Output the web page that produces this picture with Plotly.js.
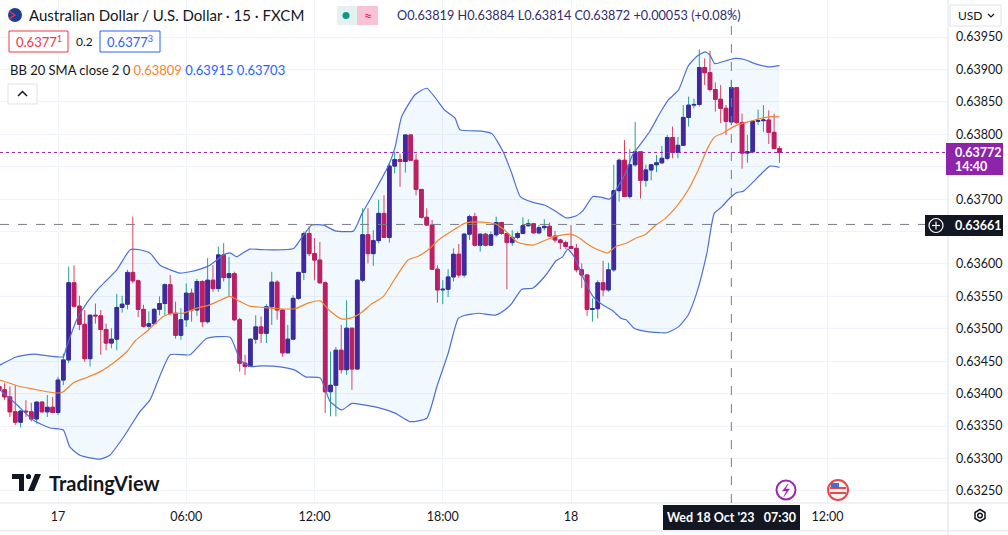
<!DOCTYPE html>
<html>
<head>
<meta charset="utf-8">
<script src="https://cdn.plot.ly/plotly-3.0.1.min.js"></script>
<style>
html, body { margin: 0; padding: 0; background: #ffffff; }
#chart { width: 1008px; height: 535px; }
</style>
</head>
<body>
<div id="chart"></div>
<script>
"use strict";

// AUD/USD 15 minute candles, index 0 = Tue 17 Oct 2023 00:00
var firstIndex = -11;

var opens = [
    0.63411, 0.63406, 0.63395, 0.63372, 0.63356, 0.63373, 0.63372, 0.63361, 0.63387, 0.63372, 0.63379,
    0.63371, 0.63421, 0.63452, 0.63571, 0.63535, 0.63507, 0.63454, 0.63521, 0.63520, 0.63499,
    0.63478, 0.63484, 0.63533, 0.63538, 0.63587, 0.63574, 0.63530, 0.63504, 0.63508, 0.63530,
    0.63539, 0.63568, 0.63524, 0.63490, 0.63514, 0.63555, 0.63529, 0.63573, 0.63511, 0.63575,
    0.63562, 0.63614, 0.63579, 0.63585, 0.63514, 0.63447, 0.63442, 0.63484, 0.63503, 0.63493,
    0.63534, 0.63572, 0.63529, 0.63463, 0.63484, 0.63547, 0.63587, 0.63647, 0.63616, 0.63606,
    0.63571, 0.63403, 0.63413, 0.63467, 0.63437, 0.63501, 0.63438, 0.63575, 0.63645, 0.63616,
    0.63636, 0.63678, 0.63641, 0.63751, 0.63761, 0.63758, 0.63799, 0.63760, 0.63715, 0.63672,
    0.63660, 0.63592, 0.63560, 0.63561, 0.63580, 0.63615, 0.63583, 0.63646, 0.63673, 0.63629,
    0.63646, 0.63629, 0.63645, 0.63664, 0.63647, 0.63633, 0.63641, 0.63647, 0.63659, 0.63662,
    0.63648, 0.63656, 0.63658, 0.63643, 0.63637, 0.63633, 0.63627, 0.63624, 0.63591, 0.63583,
    0.63530, 0.63531, 0.63571, 0.63560, 0.63591, 0.63713, 0.63760, 0.63704, 0.63753, 0.63773,
    0.63729, 0.63745, 0.63753, 0.63756, 0.63763, 0.63795, 0.63772, 0.63783, 0.63826, 0.63845,
    0.63846, 0.63903, 0.63895, 0.63869, 0.63854, 0.63840, 0.63819, 0.63872, 0.63818, 0.63771,
    0.63773, 0.63820, 0.63821, 0.63822, 0.63803, 0.63778
];
var highs = [
    0.63413, 0.63416, 0.63411, 0.63413, 0.63375, 0.63390, 0.63386, 0.63388, 0.63388, 0.63398, 0.63395,
    0.63426, 0.63462, 0.63596, 0.63598, 0.63551, 0.63529, 0.63521, 0.63539, 0.63529, 0.63508,
    0.63501, 0.63554, 0.63551, 0.63591, 0.63673, 0.63576, 0.63537, 0.63527, 0.63532, 0.63550,
    0.63570, 0.63583, 0.63542, 0.63532, 0.63570, 0.63562, 0.63577, 0.63575, 0.63609, 0.63598,
    0.63627, 0.63632, 0.63611, 0.63588, 0.63517, 0.63460, 0.63485, 0.63521, 0.63519, 0.63538,
    0.63588, 0.63575, 0.63529, 0.63506, 0.63552, 0.63588, 0.63650, 0.63658, 0.63640, 0.63634,
    0.63573, 0.63465, 0.63472, 0.63506, 0.63544, 0.63501, 0.63576, 0.63686, 0.63686, 0.63652,
    0.63699, 0.63706, 0.63756, 0.63773, 0.63770, 0.63799, 0.63799, 0.63770, 0.63715, 0.63686,
    0.63668, 0.63598, 0.63575, 0.63592, 0.63624, 0.63631, 0.63648, 0.63676, 0.63679, 0.63646,
    0.63648, 0.63650, 0.63673, 0.63665, 0.63647, 0.63652, 0.63650, 0.63672, 0.63669, 0.63663,
    0.63660, 0.63669, 0.63664, 0.63651, 0.63639, 0.63636, 0.63660, 0.63631, 0.63601, 0.63585,
    0.63547, 0.63575, 0.63605, 0.63602, 0.63753, 0.63763, 0.63791, 0.63777, 0.63819, 0.63773,
    0.63753, 0.63754, 0.63768, 0.63782, 0.63799, 0.63812, 0.63796, 0.63845, 0.63858, 0.63855,
    0.63931, 0.63917, 0.63929, 0.63880, 0.63876, 0.63845, 0.63884, 0.63873, 0.63832, 0.63799,
    0.63821, 0.63838, 0.63845, 0.63837, 0.63832, 0.63782
];
var lows = [
    0.63324, 0.63390, 0.63364, 0.63352, 0.63348, 0.63364, 0.63357, 0.63354, 0.63371, 0.63364, 0.63370,
    0.63367, 0.63413, 0.63447, 0.63533, 0.63498, 0.63449, 0.63442, 0.63508, 0.63460, 0.63467,
    0.63470, 0.63467, 0.63525, 0.63530, 0.63570, 0.63518, 0.63502, 0.63498, 0.63506, 0.63521,
    0.63521, 0.63521, 0.63485, 0.63483, 0.63503, 0.63511, 0.63520, 0.63503, 0.63508, 0.63557,
    0.63557, 0.63573, 0.63550, 0.63512, 0.63434, 0.63429, 0.63441, 0.63477, 0.63478, 0.63478,
    0.63506, 0.63514, 0.63457, 0.63462, 0.63484, 0.63545, 0.63575, 0.63612, 0.63575, 0.63570,
    0.63370, 0.63365, 0.63365, 0.63431, 0.63429, 0.63406, 0.63437, 0.63572, 0.63601, 0.63597,
    0.63632, 0.63640, 0.63633, 0.63740, 0.63719, 0.63741, 0.63759, 0.63706, 0.63670, 0.63659,
    0.63591, 0.63540, 0.63538, 0.63549, 0.63573, 0.63579, 0.63579, 0.63637, 0.63627, 0.63619,
    0.63627, 0.63629, 0.63642, 0.63645, 0.63561, 0.63628, 0.63638, 0.63646, 0.63658, 0.63647,
    0.63646, 0.63652, 0.63642, 0.63633, 0.63623, 0.63623, 0.63623, 0.63587, 0.63563, 0.63520,
    0.63511, 0.63516, 0.63550, 0.63557, 0.63588, 0.63696, 0.63703, 0.63701, 0.63750, 0.63701,
    0.63719, 0.63729, 0.63742, 0.63755, 0.63760, 0.63763, 0.63763, 0.63782, 0.63812, 0.63840,
    0.63843, 0.63876, 0.63866, 0.63835, 0.63817, 0.63799, 0.63814, 0.63816, 0.63747, 0.63756,
    0.63771, 0.63814, 0.63804, 0.63785, 0.63777, 0.63756
];
var closes = [
    0.63406, 0.63395, 0.63372, 0.63356, 0.63373, 0.63372, 0.63361, 0.63387, 0.63372, 0.63379, 0.63371,
    0.63421, 0.63452, 0.63571, 0.63535, 0.63507, 0.63454, 0.63521, 0.63520, 0.63499, 0.63478,
    0.63484, 0.63533, 0.63538, 0.63587, 0.63574, 0.63530, 0.63504, 0.63508, 0.63530, 0.63539,
    0.63568, 0.63524, 0.63490, 0.63514, 0.63555, 0.63529, 0.63573, 0.63511, 0.63575, 0.63562,
    0.63614, 0.63579, 0.63585, 0.63514, 0.63447, 0.63442, 0.63484, 0.63503, 0.63493, 0.63534,
    0.63572, 0.63529, 0.63463, 0.63484, 0.63547, 0.63587, 0.63647, 0.63616, 0.63606, 0.63571,
    0.63403, 0.63413, 0.63467, 0.63437, 0.63501, 0.63438, 0.63575, 0.63645, 0.63616, 0.63636,
    0.63678, 0.63641, 0.63751, 0.63761, 0.63758, 0.63799, 0.63760, 0.63715, 0.63672, 0.63660,
    0.63592, 0.63560, 0.63561, 0.63580, 0.63615, 0.63583, 0.63646, 0.63673, 0.63629, 0.63646,
    0.63629, 0.63645, 0.63664, 0.63647, 0.63633, 0.63641, 0.63647, 0.63659, 0.63662, 0.63648,
    0.63656, 0.63658, 0.63643, 0.63637, 0.63633, 0.63627, 0.63624, 0.63591, 0.63583, 0.63530,
    0.63531, 0.63571, 0.63560, 0.63591, 0.63713, 0.63760, 0.63704, 0.63753, 0.63773, 0.63729,
    0.63745, 0.63753, 0.63756, 0.63763, 0.63795, 0.63772, 0.63783, 0.63826, 0.63845, 0.63846,
    0.63903, 0.63895, 0.63869, 0.63854, 0.63840, 0.63820, 0.63872, 0.63818, 0.63771, 0.63773,
    0.63820, 0.63821, 0.63822, 0.63803, 0.63778, 0.63772
];

// Bollinger bands (20, 2), at candle indices
var bbUpperIdx = [-10.9, -7.7, -4.6, -1.5, 1.0, 1.6, 3.5, 5.4, 7.9, 11.0, 13.5, 15.3, 17.2, 19.1, 21.0, 22.8,
    24.7, 26.6, 28.4, 29.7, 30.9, 32.2, 33.4, 34.6, 35.9, 38.2, 44.1, 45.7, 47.5, 49.7, 51.9, 55.3, 56.9,
    59.4, 61.9, 63.1, 64.3, 66.8, 69.0, 72.4, 74.3, 75.2, 79.3, 81.2, 83.3, 84.9, 86.5, 88.9, 91.0, 93.2,
    95.1, 96.9, 98.2, 100.1, 101.6, 103.2, 104.4, 106.3, 107.5, 109.1, 110.7, 112.6, 114.2, 116.1, 117.9,
    119.5, 121.1, 122.0, 122.9, 124.8, 126.7, 128.6, 130.4, 132.9, 135.0];
var bbUpper = [0.63444, 0.63457, 0.63461, 0.63458, 0.63457, 0.63472, 0.63514, 0.63540, 0.63565, 0.63591,
    0.63622, 0.63622, 0.63617, 0.63598, 0.63591, 0.63586, 0.63588, 0.63592, 0.63598, 0.63606, 0.63614,
    0.63617, 0.63611, 0.63617, 0.63623, 0.63622, 0.63624, 0.63642, 0.63660, 0.63660, 0.63651, 0.63651,
    0.63678, 0.63714, 0.63753, 0.63781, 0.63827, 0.63861, 0.63871, 0.63837, 0.63825, 0.63807, 0.63805,
    0.63801, 0.63773, 0.63740, 0.63704, 0.63695, 0.63691, 0.63681, 0.63671, 0.63674, 0.63682, 0.63704,
    0.63703, 0.63700, 0.63714, 0.63742, 0.63768, 0.63786, 0.63804, 0.63832, 0.63853, 0.63868, 0.63905,
    0.63920, 0.63927, 0.63922, 0.63909, 0.63913, 0.63917, 0.63915, 0.63909, 0.63904, 0.63906];

var bbBasisIdx = [-10.9, -9.0, -7.1, -4.6, -2.1, 0.1, 1.0, 2.9, 5.4, 7.9, 10.3, 12.9, 14.5, 16.6, 19.7,
    21.6, 23.4, 26.0, 28.4, 30.3, 32.2, 34.1, 35.9, 38.2, 41.3, 44.4, 46.9, 49.1, 50.7, 53.1, 55.3, 56.9,
    58.8, 60.9, 63.1, 65.5, 67.4, 69.3, 71.2, 74.3, 76.2, 78.7, 81.8, 83.6, 86.1, 88.9, 91.3, 93.2, 95.7,
    97.2, 99.4, 101.6, 102.9, 104.4, 106.3, 108.2, 110.0, 111.7, 113.6, 115.5, 117.9, 119.8, 121.7,
    122.9, 124.5, 126.7, 128.6, 130.4, 132.9, 135.0];
var bbBasis = [0.63421, 0.63416, 0.63411, 0.63407, 0.63403, 0.63401, 0.63403, 0.63417, 0.63425, 0.63434,
    0.63447, 0.63465, 0.63482, 0.63496, 0.63519, 0.63524, 0.63524, 0.63532, 0.63537, 0.63544, 0.63550,
    0.63542, 0.63535, 0.63533, 0.63531, 0.63531, 0.63540, 0.63543, 0.63529, 0.63515, 0.63518, 0.63526,
    0.63539, 0.63550, 0.63578, 0.63606, 0.63612, 0.63622, 0.63637, 0.63654, 0.63663, 0.63665, 0.63662,
    0.63652, 0.63633, 0.63629, 0.63637, 0.63643, 0.63646, 0.63642, 0.63629, 0.63620, 0.63617, 0.63627,
    0.63632, 0.63640, 0.63646, 0.63659, 0.63670, 0.63686, 0.63714, 0.63745, 0.63781, 0.63796, 0.63802,
    0.63813, 0.63818, 0.63822, 0.63827, 0.63827];

var bbLowerIdx = [-10.9, -7.7, -4.6, -1.5, 1.0, 2.2, 4.1, 6.0, 7.9, 9.7, 12.5, 15.3, 17.2, 21.0, 24.7,
    27.8, 32.2, 34.1, 35.9, 38.2, 41.9, 44.4, 46.3, 49.1, 50.9, 53.1, 55.0, 56.9, 60.6, 63.1, 65.9, 69.0,
    70.9, 73.0, 74.9, 76.2, 78.7, 81.8, 83.6, 84.9, 86.8, 88.9, 91.3, 93.2, 94.4, 95.4, 96.6, 98.5, 100.1,
    101.9, 103.8, 105.4, 106.3, 107.8, 110.0, 112.6, 113.9, 116.1, 117.9, 119.5, 121.4, 122.8, 124.2,
    125.4, 127.0, 128.2, 129.8, 131.7, 133.2, 134.5, 135.0];
var bbLower = [0.63406, 0.63383, 0.63359, 0.63347, 0.63344, 0.63318, 0.63305, 0.63301, 0.63299, 0.63305,
    0.63336, 0.63372, 0.63390, 0.63460, 0.63460, 0.63485, 0.63487, 0.63452, 0.63442, 0.63443, 0.63441,
    0.63436, 0.63426, 0.63424, 0.63388, 0.63375, 0.63385, 0.63383, 0.63377, 0.63370, 0.63357, 0.63362,
    0.63411, 0.63462, 0.63516, 0.63521, 0.63524, 0.63521, 0.63529, 0.63539, 0.63561, 0.63563, 0.63583,
    0.63605, 0.63611, 0.63623, 0.63611, 0.63575, 0.63550, 0.63537, 0.63528, 0.63516, 0.63514, 0.63501,
    0.63496, 0.63494, 0.63494, 0.63503, 0.63521, 0.63555, 0.63616, 0.63678, 0.63688, 0.63699, 0.63710,
    0.63712, 0.63724, 0.63740, 0.63751, 0.63750, 0.63749];

var priceTicks = [0.6325, 0.6330, 0.6335, 0.6340, 0.6345, 0.6350, 0.6355, 0.6360, 0.6365, 0.6370,
    0.6375, 0.6380, 0.6385, 0.6390, 0.6395];
// these two labels sit under the price tags, as on the original
var hiddenTicks = [0.6365, 0.6375];
var timeTickIdx = [0, 24, 48, 72, 96, 144];
var timeTickText = ["17", "06:00", "12:00", "18:00", "18", "12:00"];

var lastPrice = 0.63772;
var crossPrice = 0.63661;
var crossIdx = 126;

// colours
var upBody = "#45209b", downBody = "#c4195e";
var upWick = "#22a08f", downWick = "#e0405a";
var bandBlue = "#4d6fd8", basisOrange = "#f5842c";
var textColor = "#131722", lineGray = "#e0e3eb";

function candleTime(i) {
    return Date.UTC(2023, 9, 17) + i * 15 * 60000;
}

var times = [];
for (var k = 0; k < opens.length; k++) {
    times.push(candleTime(firstIndex + k));
}
var bodyTop = opens.map(function (o, j) { return Math.max(o, closes[j]); });
var bodyBottom = opens.map(function (o, j) { return Math.min(o, closes[j]); });

// plot area in pixels
var W = 1008, H = 535, MR = 60, MB = 32;
var PW = W - MR, PH = H - MB;
function px(x) { return x / PW; }
function py(y) { return 1 - y / PH; }

function pathPx(pts, closed) {
    var s = "";
    for (var j = 0; j < pts.length; j++) {
        s += (j == 0 ? "M" : "L") + px(pts[j][0]).toFixed(5) + "," + py(pts[j][1]).toFixed(5);
    }
    return s + (closed ? "Z" : "");
}

var shapes = [];
var annotations = [];

function addRect(x0, y0, x1, y1, fill, line, lw) {
    shapes.push({ type: "rect", xref: "paper", yref: "paper", layer: "above",
        x0: px(x0), x1: px(x1), y0: py(y1), y1: py(y0),
        fillcolor: fill, line: { color: line || fill, width: lw || 0 } });
}
function addCircle(cx, cy, r, fill, line, lw) {
    shapes.push({ type: "circle", xref: "paper", yref: "paper", layer: "above",
        x0: px(cx - r), x1: px(cx + r), y0: py(cy + r), y1: py(cy - r),
        fillcolor: fill, line: { color: line || fill, width: lw || 0 } });
}
function addPath(pts, closed, fill, line, lw) {
    shapes.push({ type: "path", xref: "paper", yref: "paper", layer: "above",
        path: pathPx(pts, closed), fillcolor: fill || "rgba(0,0,0,0)",
        line: { color: line || "rgba(0,0,0,0)", width: lw || 0 } });
}
function addText(x, y, text, size, color, xanchor, bold) {
    annotations.push({ xref: "paper", yref: "paper", x: px(x), y: py(y), text: bold ? "<b>" + text + "</b>" : text,
        showarrow: false, xanchor: xanchor || "left", yanchor: "middle",
        font: { family: "Lato, 'Noto Sans', sans-serif", size: size, color: color } });
}

// separators of the price and time scales
addPath([[948, 0], [948, 535]], false, null, lineGray, 1);
addPath([[0, 503], [1008, 503]], false, null, lineGray, 1);
addPath([[0, 531], [1008, 531]], false, null, lineGray, 1);

// crosshair and last price line
shapes.push({ type: "line", xref: "paper", yref: "y", x0: 0, x1: 1, y0: lastPrice, y1: lastPrice,
    line: { color: "#8e24aa", width: 1, dash: "dot" } });
shapes.push({ type: "line", xref: "paper", yref: "y", x0: 0, x1: px(925), y0: crossPrice, y1: crossPrice,
    line: { color: "#787b86", width: 1, dash: "dash" } });
shapes.push({ type: "line", xref: "x", yref: "paper", x0: candleTime(crossIdx), x1: candleTime(crossIdx), y0: 0, y1: 1,
    line: { color: "#787b86", width: 1, dash: "dash" } });

// legend header
addCircle(15, 15, 7, "#1e3f91");
addPath([[9, 11], [15, 15], [9, 19]], false, null, "#e53935", 1.5);
addText(27, 15, "Australian Dollar / U.S. Dollar · 15 · FXCM", 15, textColor);
addRect(337, 6, 378, 25, "#e4f1ef");
addCircle(346, 15.5, 3.5, "#089981");
addRect(357, 6, 378, 25, "#f8c3d5");
addText(367.5, 15.5, "≈", 14, "#e91e63", "center");
addText(395, 15, "O0.63819 H0.63884 L0.63814 C0.63872 +0.00053 (+0.08%)", 12.7, "#2f2c72");

addRect(9, 31, 68, 52, "#ffffff", "#f23645", 1);
addText(38.5, 41.5, "0.6377<sup>1</sup>", 13, "#f23645", "center");
addText(84, 41.5, "0.2", 12, textColor, "center");
addRect(100, 31, 160, 52, "#ffffff", "#2962ff", 1);
addText(130, 41.5, "0.6377<sup>3</sup>", 13, "#2962ff", "center");

addText(8, 70, "BB 20 SMA close 2 0 <span style='color:" + basisOrange + "'>0.63809</span> " +
    "<span style='color:#2962ff'>0.63915</span> <span style='color:#2962ff'>0.63703</span>", 13, textColor);
addRect(8, 84, 37, 104, "#ffffff", lineGray, 1);
addPath([[18, 96], [22.5, 91.5], [27, 96]], false, null, textColor, 1.5);

// price scale extras
addRect(950, 5, 1001, 26, "#ffffff", lineGray, 1);
addText(956, 15.5, "USD", 12, textColor);
addPath([[988, 14], [991, 17], [994, 14]], false, null, textColor, 1.2);

addRect(946, 143, 1003, 175, "#8e24aa");
addText(953, 152, "0.63772", 12.5, "#ffffff", "left", true);
addText(953, 166, "14:40", 12.5, "#ffffff", "left", true);

addRect(925, 215, 1003, 236, "#131722");
addCircle(936, 225.5, 7, "rgba(0,0,0,0)", "#ffffff", 1.2);
addPath([[932, 225.5], [940, 225.5]], false, null, "#ffffff", 1.2);
addPath([[936, 221.5], [936, 229.5]], false, null, "#ffffff", 1.2);
addText(953, 225.5, "0.63661", 12.5, "#ffffff", "left", true);

// time scale extras
addRect(663, 505, 800, 530, "#131722");
addText(731.5, 517.5, "Wed 18 Oct '23   07:30", 12.5, "#ffffff", "center", true);
addPath([[975, 512.5], [980, 509.5], [985, 512.5], [985, 518.5], [980, 521.5], [975, 518.5]], true, null, textColor, 1.5);
addCircle(980, 515.5, 2.3, "rgba(0,0,0,0)", textColor, 1.5);

// event icons
addCircle(786, 490, 9.5, "#ffffff", "#9c27b0", 2);
addPath([[788, 484], [782.5, 491], [786.5, 491], [784, 496.5], [789.5, 489], [785.5, 489]], true, "#9c27b0", "#9c27b0", 0.5);
addCircle(838, 490, 10, "#f4f4f4", "#e8474c", 2);
addRect(830, 487, 846, 489, "#e8474c");
addRect(830, 492, 846, 494, "#e8474c");
addRect(831, 483, 839, 488, "#3d72d8");

// TradingView logo
addPath([[12, 474], [24, 474], [24, 491], [19, 491], [19, 479], [12, 479]], true, "#131722");
addCircle(28.5, 476.5, 2.6, "#131722");
addPath([[35, 474], [41, 474], [34, 491], [28, 491]], true, "#131722");
addText(47, 482.5, "TradingView", 20, "#131722", "left", true);

var upperTrace = {
    type: "scatter", mode: "lines", x: bbUpperIdx.map(candleTime), y: bbUpper,
    line: { color: bandBlue, width: 1.2, shape: "spline", smoothing: 0.5 }, hoverinfo: "skip"
};
var lowerTrace = {
    type: "scatter", mode: "lines", x: bbLowerIdx.map(candleTime), y: bbLower,
    line: { color: bandBlue, width: 1.2, shape: "spline", smoothing: 0.5 },
    fill: "tonexty", fillcolor: "rgba(33,150,243,0.06)", hoverinfo: "skip"
};
var basisTrace = {
    type: "scatter", mode: "lines", x: bbBasisIdx.map(candleTime), y: bbBasis,
    line: { color: basisOrange, width: 1.2, shape: "spline", smoothing: 0.5 }, hoverinfo: "skip"
};
// wicks (full candles in the wick colours) ...
var wickTrace = {
    type: "candlestick", x: times, open: opens, high: highs, low: lows, close: closes,
    increasing: { line: { color: upWick, width: 1 }, fillcolor: upWick },
    decreasing: { line: { color: downWick, width: 1 }, fillcolor: downWick },
    hoverinfo: "skip"
};
// ... and bodies drawn over them
var bodyTrace = {
    type: "candlestick", x: times, open: opens, high: bodyTop, low: bodyBottom, close: closes,
    increasing: { line: { color: upBody, width: 1 }, fillcolor: upBody },
    decreasing: { line: { color: downBody, width: 1 }, fillcolor: downBody },
    hoverinfo: "skip"
};

var layout = {
    width: W, height: H,
    margin: { l: 0, r: MR, t: 0, b: MB },
    paper_bgcolor: "#ffffff", plot_bgcolor: "#ffffff",
    showlegend: false,
    boxmode: "overlay", boxgap: 0.2, boxgroupgap: 0.15,
    font: { family: "Lato, 'Noto Sans', sans-serif", size: 12, color: textColor },
    xaxis: {
        type: "date", range: [candleTime(-10.853), candleTime(166.54)],
        rangeslider: { visible: false },
        tickmode: "array", tickvals: timeTickIdx.map(candleTime), ticktext: timeTickText,
        showgrid: true, gridcolor: "#f0f3fa", gridwidth: 1, zeroline: false,
        showline: false, ticks: "", ticklabelstandoff: 4,
        tickfont: { size: 12.5, color: textColor }, fixedrange: true
    },
    yaxis: {
        side: "right", range: [0.632314, 0.640071],
        tickmode: "array", tickvals: priceTicks,
        ticktext: priceTicks.map(function (v) {
            return hiddenTicks.indexOf(v) >= 0 ? " " : v.toFixed(5);
        }),
        showgrid: true, gridcolor: "#f0f3fa", gridwidth: 1, zeroline: false,
        showline: false, ticks: "", ticklabelstandoff: 7,
        tickfont: { size: 12.5, color: textColor }, fixedrange: true
    },
    shapes: shapes,
    annotations: annotations
};

Plotly.newPlot("chart", [upperTrace, lowerTrace, basisTrace, wickTrace, bodyTrace], layout,
    { displayModeBar: false, staticPlot: true });
</script>
</body>
</html>
